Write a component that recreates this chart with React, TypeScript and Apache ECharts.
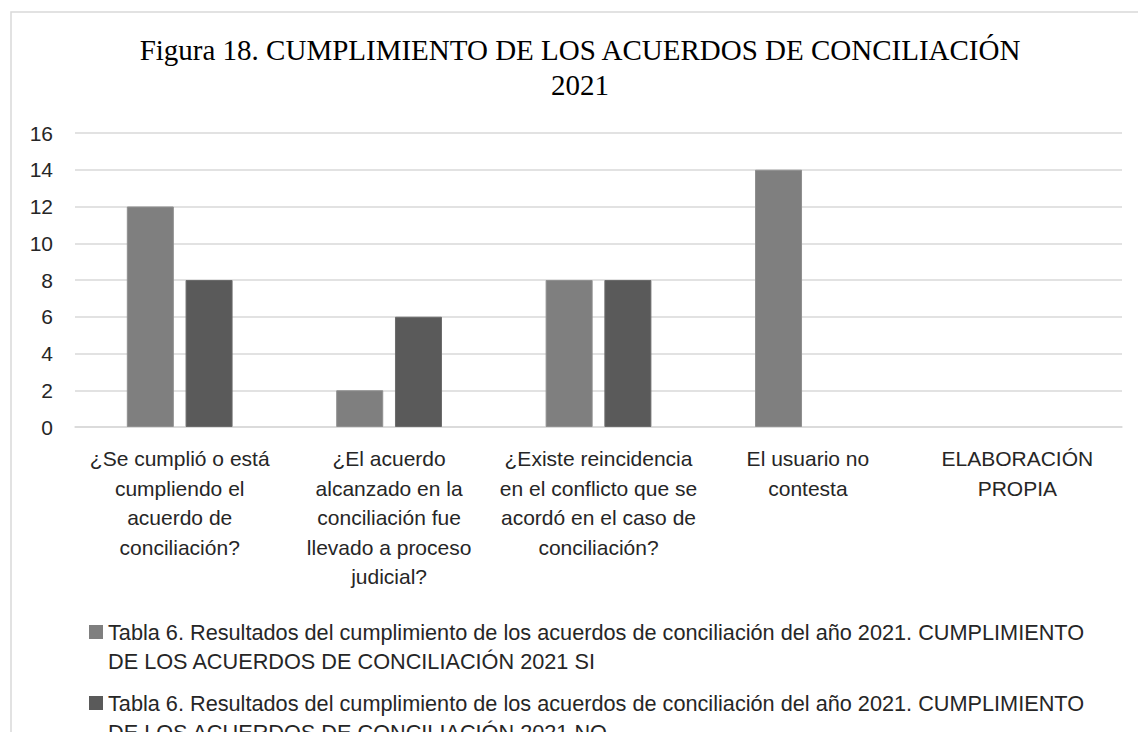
import React, { useEffect, useRef } from "react";
import * as echarts from "echarts";

const categories: string[] = [
  "¿Se cumplió o está\ncumpliendo el\nacuerdo de\nconciliación?",
  "¿El acuerdo\nalcanzado en la\nconciliación fue\nllevado a proceso\njudicial?",
  "¿Existe reincidencia\nen el conflicto que se\nacordó en el caso de\nconciliación?",
  "El usuario no\ncontesta",
  "ELABORACIÓN\nPROPIA",
];

const seriesSiName =
  "Tabla 6. Resultados del cumplimiento de los acuerdos de conciliación del año 2021. CUMPLIMIENTO DE LOS ACUERDOS DE CONCILIACIÓN 2021 SI";
const seriesNoName =
  "Tabla 6. Resultados del cumplimiento de los acuerdos de conciliación del año 2021. CUMPLIMIENTO DE LOS ACUERDOS DE CONCILIACIÓN 2021 NO";

const valuesSi: (number | null)[] = [12, 2, 8, 14, null];
const valuesNo: (number | null)[] = [8, 6, 8, null, null];

const seriesColors: string[] = ["#7f7f7f", "#5a5a5a"];

const titleText = "Figura 18. CUMPLIMIENTO DE LOS ACUERDOS DE CONCILIACIÓN\n2021";

const yMin = 0;
const yMax = 16;
const yInterval = 2;

const SANS = "'Liberation Sans', Arial, sans-serif";
const SERIF = "'Liberation Serif', 'Times New Roman', serif";
const TEXT = "#262626";
const GRID = "#d9d9d9";

const wrapLegend = (name: string) => name.replace("CUMPLIMIENTO DE", "CUMPLIMIENTO\nDE");

export default function App() {
  const ref = useRef<HTMLDivElement>(null);

  useEffect(() => {
    if (!ref.current) return;
    const chart = echarts.init(ref.current, undefined, { renderer: "svg" });

    const legendNames = [seriesSiName, seriesNoName];
    const legendFirstLineY = [632, 703];
    const legendGraphics: any[] = [];
    legendNames.forEach((name, i) => {
      const cy = legendFirstLineY[i];
      legendGraphics.push({
        type: "rect",
        x: 89,
        y: cy - 7,
        shape: { x: 0, y: 0, width: 14, height: 14 },
        style: { fill: seriesColors[i] },
        silent: true,
      });
      legendGraphics.push({
        type: "text",
        x: 108,
        y: cy - 14.75,
        style: {
          text: wrapLegend(name),
          fontFamily: SANS,
          fontSize: 21.7,
          fill: TEXT,
          lineHeight: 29.5,
          verticalAlign: "top",
          align: "left",
        },
        silent: true,
      });
    });

    chart.setOption({
      animation: false,
      backgroundColor: "#ffffff",
      title: {
        text: titleText,
        left: 580,
        top: 32.5,
        padding: 0,
        textAlign: "center",
        textStyle: {
          fontFamily: SERIF,
          fontSize: 29,
          fontWeight: "normal",
          color: "#000000",
          lineHeight: 35,
        },
      },
      graphic: [
        {
          type: "rect",
          x: 11,
          y: 12,
          shape: { x: 0, y: 0, width: 1145, height: 740 },
          style: { fill: "none", stroke: GRID, lineWidth: 1.5 },
          silent: true,
        },
        ...legendGraphics,
      ],
      legend: { show: false, data: legendNames },
      grid: {
        left: 75,
        right: 16,
        top: 133,
        bottom: 305,
        containLabel: false,
      },
      xAxis: {
        type: "category",
        data: categories,
        axisLine: { show: true, lineStyle: { color: GRID, width: 1.5 } },
        axisTick: { show: false },
        axisLabel: {
          interval: 0,
          margin: 17,
          fontFamily: SANS,
          fontSize: 21,
          color: TEXT,
          lineHeight: 29.5,
          align: "center",
        },
      },
      yAxis: {
        type: "value",
        min: yMin,
        max: yMax,
        interval: yInterval,
        axisLine: { show: false },
        axisTick: { show: false },
        splitLine: { show: true, lineStyle: { color: GRID, width: 1.5 } },
        axisLabel: {
          margin: 22,
          fontFamily: SANS,
          fontSize: 21,
          color: TEXT,
        },
      },
      series: [
        {
          name: seriesSiName,
          type: "bar",
          data: valuesSi,
          barWidth: 47,
          barGap: "25%",
          itemStyle: { color: seriesColors[0], borderColor: "#8f8f8f", borderWidth: 1 },
        },
        {
          name: seriesNoName,
          type: "bar",
          data: valuesNo,
          barWidth: 47,
          barGap: "25%",
          itemStyle: { color: seriesColors[1], borderColor: "#6a6a6a", borderWidth: 1 },
        },
      ],
    });
    return () => chart.dispose();
  }, []);

  return (
    <div
      ref={ref}
      style={{ position: "fixed", left: 0, top: 0, width: 1138, height: 732, background: "#fff" }}
    />
  );
}
